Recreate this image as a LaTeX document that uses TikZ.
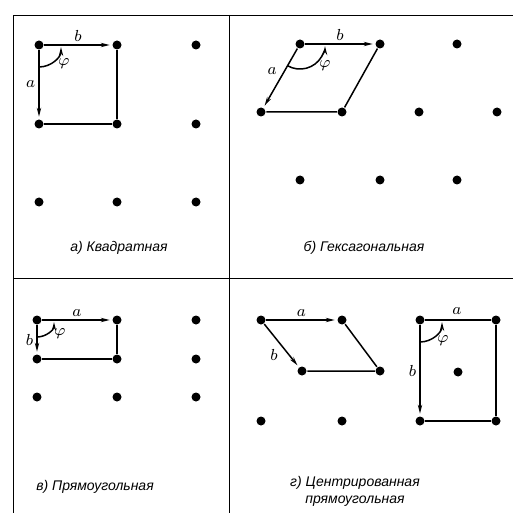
\documentclass[tikz,border=0pt]{standalone}
\usepackage{fontspec}
\setmainfont{Liberation Sans}
\usepackage{tikz}
\usetikzlibrary{arrows.meta,positioning}

\begin{document}
\begin{tikzpicture}
          [x=0.5pt,y=-0.5pt,->,>={Stealth[length=4.5pt,width=2.2pt]},shorten >=1pt,line width=0.75pt]
          \tikzstyle{site}=[circle,fill=black,draw=none,inner sep=0pt,minimum size=4.5pt]
          \tikzstyle{cell}=[-,shorten >=0pt]
          \tikzstyle{frame}=[-,shorten >=0pt,line width=0.45pt]
          \tikzstyle{vec}=[font=\fontsize{8.5}{9}\selectfont,inner sep=1.5pt]
          \tikzstyle{caption}=[font=\fontsize{7}{8.5}\selectfont\itshape,align=center]

          \useasboundingbox (0,0) rectangle (513,513);
          \draw[frame] (13,513) -- (13,15) -- (513,15);
          \draw[frame] (13,278) -- (513,278);
          \draw[frame] (229,15) -- (229,513);

          % a) square
          \node[site] (a1) at (39,45) {};
          \node[site] (a2) at (117,45) {};
          \node[site] (a3) at (196,45) {};
          \node[site] (a4) at (39,124) {};
          \node[site] (a5) at (117,124) {};
          \node[site] (a6) at (196,124) {};
          \node[site] (a7) at (39,202) {};
          \node[site] (a8) at (117,202) {};
          \node[site] (a9) at (196,202) {};
          \draw[cell] (a2) -- (a5) -- (a4);
          \path[->]
          (a1) edge[] node[vec,above] (bA) {$b$} (a2)
          (a1) edge[] node[vec,left] (aA) {$a$} (a4)
          ;
          \draw ([shift={(0,22)}]a1.center) arc[start angle=90,end angle=0,radius=22];
          \node[vec] (phiA) at (64,64) {$\varphi$};
          \node[caption] (capA) at (119,248) {а) Квадратная};

          % b) hexagonal
          \node[site] (h1) at (300,44) {};
          \node[site] (h2) at (380,44) {};
          \node[site] (h3) at (457,44) {};
          \node[site] (h4) at (261,112) {};
          \node[site] (h5) at (342,112) {};
          \node[site] (h6) at (419,112) {};
          \node[site] (h7) at (497,112) {};
          \node[site] (h8) at (300,180) {};
          \node[site] (h9) at (380,180) {};
          \node[site] (h10) at (457,180) {};
          \draw[cell] (h2) -- (h5) -- (h4);
          \path[->]
          (h1) edge[] node[vec,above] (bB) {$b$} (h2)
          (h1) edge[] node[vec,above left] (aB) {$a$} (h4)
          ;
          \draw ([shift={(-12.5,21.7)}]h1.center) arc[start angle=120,end angle=0,radius=25];
          \node[vec] (phiB) at (325,66) {$\varphi$};
          \node[caption] (capB) at (364,248) {б) Гексагональная};

          % v) rectangular
          \node[site] (r1) at (37,320) {};
          \node[site] (r2) at (117,320) {};
          \node[site] (r3) at (196,320) {};
          \node[site] (r4) at (37,359) {};
          \node[site] (r5) at (117,359) {};
          \node[site] (r6) at (196,359) {};
          \node[site] (r7) at (37,397) {};
          \node[site] (r8) at (117,397) {};
          \node[site] (r9) at (196,397) {};
          \draw[cell] (r2) -- (r5) -- (r4);
          \path[->]
          (r1) edge[] node[vec,above] (aC) {$a$} (r2)
          (r1) edge[] node[vec,left] (bC) {$b$} (r4)
          ;
          \draw ([shift={(0,17)}]r1.center) arc[start angle=90,end angle=0,radius=17];
          \node[vec] (phiC) at (60,334) {$\varphi$};
          \node[caption] (capC) at (95,487) {в) Прямоугольная};

          % g) centred rectangular
          \node[site] (c1) at (261,320) {};
          \node[site] (c2) at (342,320) {};
          \node[site] (c3) at (302,371) {};
          \node[site] (c4) at (380,371) {};
          \node[site] (c5) at (261,421) {};
          \node[site] (c6) at (342,421) {};
          \draw[cell] (c2) -- (c4) -- (c3);
          \path[->]
          (c1) edge[] node[vec,above] (aD) {$a$} (c2)
          (c1) edge[] node[vec,below left] (bD) {$b$} (c3)
          ;
          \node[site] (d1) at (420,320) {};
          \node[site] (d2) at (496,320) {};
          \node[site] (d3) at (458,372) {};
          \node[site] (d4) at (420,421) {};
          \node[site] (d5) at (496,421) {};
          \draw[cell] (d1) -- (d2) -- (d5) -- (d4);
          \node[vec] (aE) at (457,311) {$a$};
          \path[->]
          (d1) edge[] node[vec,left] (bE) {$b$} (d4)
          ;
          \draw ([shift={(0,22)}]d1.center) arc[start angle=90,end angle=0,radius=22];
          \node[vec] (phiE) at (443,341) {$\varphi$};
          \node[caption] (capD) at (355,491) {г) Центрированная\\прямоугольная};
\end{tikzpicture}
\end{document}
